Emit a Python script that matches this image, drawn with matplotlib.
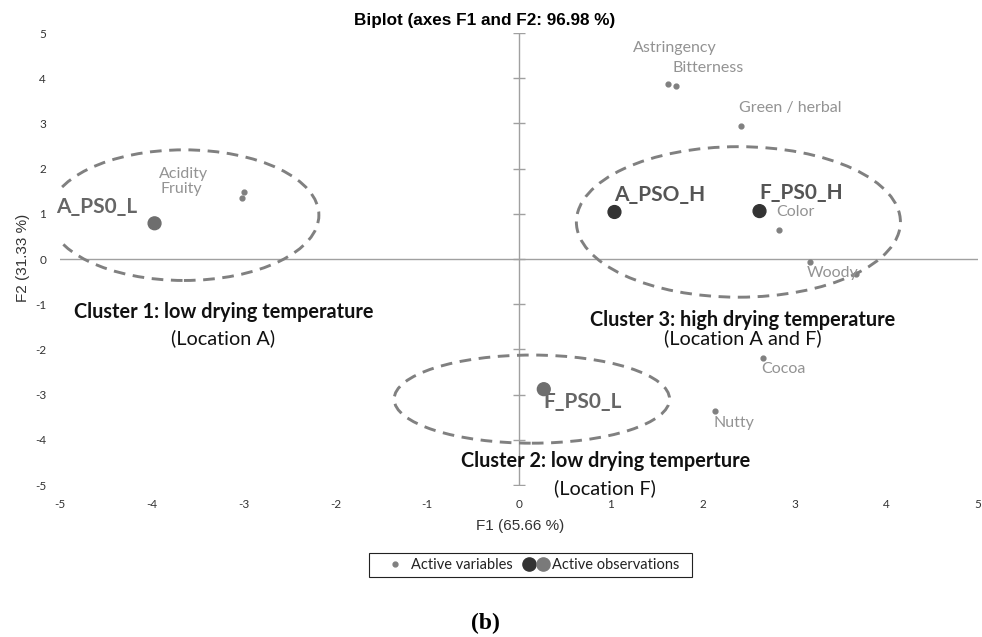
#!/usr/bin/env python3
# PCA biplot (F1 x F2) with three dashed cluster ellipses

import matplotlib
matplotlib.use('Agg')
from matplotlib import pyplot as plt
from matplotlib.patches import Ellipse, Rectangle
from matplotlib.lines import Line2D
from matplotlib.legend_handler import HandlerTuple

plt.rcParams['axes.unicode_minus'] = False

#
#   Data
#
var_names = ['Acidity', 'Fruity', 'Astringency', 'Bitterness', 'Green / herbal',
             'Color', 'Woody', '', 'Cocoa', 'Nutty']
var_f1 = [-3.00, -3.02, 1.62, 1.71, 2.42, 2.83, 3.17, 3.67, 2.66, 2.14]
var_f2 = [1.48, 1.35, 3.87, 3.83, 2.94, 0.64, -0.06, -0.33, -2.20, -3.36]

obs_names = ['A_PS0_L', 'A_PSO_H', 'F_PS0_H', 'F_PS0_L']
obs_f1 = [-3.97, 1.04, 2.62, 0.27]
obs_f2 = [0.79, 1.04, 1.06, -2.88]

cluster_titles = ['Cluster 1: low drying temperature',
                  'Cluster 2: low drying temperture',
                  'Cluster 3: high drying temperature']
cluster_subtitles = ['(Location A)', '(Location F)', '(Location A and F)']
cluster_cx = [-3.65, 0.14, 2.39]
cluster_cy = [0.97, -3.10, 0.82]
cluster_w = [2.94, 3.00, 3.53]
cluster_h = [2.89, 1.95, 3.33]

ticks = [-5, -4, -3, -2, -1, 0, 1, 2, 3, 4, 5]

#
#   Styles
#
CAL = ['Lato', 'DejaVu Sans']
ARIAL = ['Liberation Sans', 'DejaVu Sans']
var_off = [(-60, 18), (-60, 9), (-35, 36), (-3, 18), (-2, 18),
           (-3, 18), (-3, -11), (0, 0), (-2, -11), (-2, -12)]
var_ha = ['center', 'center', 'left', 'left', 'left',
          'left', 'left', 'left', 'left', 'left']
obs_off = [(-98, 16), (0, 17), (0, 18), (0, -13)]
obs_col = ['#6e6e6e', '#333333', '#333333', '#6e6e6e']
obs_txt = ['#666666', '#555555', '#555555', '#666666']
title_pos = [(-3.22, -1.17), (0.94, -4.48), (2.44, -1.35)]
sub_pos = [(-3.22, -1.75), (0.94, -5.07), (2.44, -1.75)]

fig = plt.figure(figsize=(9.82, 6.37), dpi=100)
ax = fig.add_axes([60 / 982, 1 - 485 / 637, 918 / 982, 452 / 637])
ax.set_xlim(-5, 5)
ax.set_ylim(-5, 5)
for sp in ax.spines.values():
    sp.set_visible(False)
ax.set_xticks(ticks)
ax.set_yticks(ticks)
ax.tick_params(length=0, labelsize=8.5, labelcolor='#333333')
ax.tick_params(axis='x', pad=10)
ax.tick_params(axis='y', pad=10)
for lab in ax.get_xticklabels() + ax.get_yticklabels():
    lab.set_family(CAL)

# zero lines, with small tick marks on the vertical one
ax.axhline(0, color='#a0a0a0', lw=1, zorder=1)
ax.axvline(0, color='#a0a0a0', lw=1, zorder=1)
ax.plot([0] * len(ticks), ticks, ls='none', marker='_', ms=8,
        mew=1, color='#a0a0a0', zorder=1)

# cluster ellipses
for cx, cy, w, h in zip(cluster_cx, cluster_cy, cluster_w, cluster_h):
    ax.add_patch(Ellipse((cx, cy), w, h, fill=False, ec='#808080',
                         lw=2.1, ls=(0, (4, 2.6)), zorder=2))

# active variables
ax.scatter(var_f1, var_f2, s=12, color='#808080', zorder=3)
for name, x, y, off, ha in zip(var_names, var_f1, var_f2, var_off, var_ha):
    if name:
        ax.annotate(name, (x, y), xytext=off, textcoords='offset pixels',
                    ha=ha, va='center', fontsize=11.5, color='#939393',
                    family=CAL)

# active observations
ax.scatter(obs_f1, obs_f2, s=85, color=obs_col, zorder=4)
for name, x, y, off, c in zip(obs_names, obs_f1, obs_f2, obs_off, obs_txt):
    ax.annotate(name, (x, y), xytext=off, textcoords='offset pixels',
                ha='left', va='center', fontsize=15, color=c,
                fontweight='bold', family=CAL)

# cluster captions
for t, s, tp, sp in zip(cluster_titles, cluster_subtitles, title_pos, sub_pos):
    ax.text(tp[0], tp[1], t, ha='center', va='center', fontsize=14.3,
            fontweight='bold', color='#111111', family=CAL)
    ax.text(sp[0], sp[1], s, ha='center', va='center', fontsize=14.3,
            color='#111111', family=CAL)

fig.text(485 / 982, 1 - 20 / 637, 'Biplot (axes F1 and F2: 96.98 %)',
         ha='center', va='center', fontsize=12.3, fontweight='bold',
         family=ARIAL)
fig.text(520 / 982, 1 - 526 / 637, 'F1 (65.66 %)', ha='center',
         va='center', fontsize=11, color='#333333', family=ARIAL)
fig.text(23 / 982, 1 - 258 / 637, 'F2 (31.33 %)', ha='center',
         va='center', fontsize=11, color='#333333', rotation=90,
         family=ARIAL)

# legend, frame drawn separately to match the wide padding
h_var = Line2D([], [], ls='none', marker='o', ms=3.5, color='#808080')
h_o1 = Line2D([], [], ls='none', marker='o', ms=9.5, color='#333333')
h_o2 = Line2D([], [], ls='none', marker='o', ms=9.5, color='#7a7a7a')
leg = fig.legend([h_var, (h_o1, h_o2)],
                 ['Active variables', 'Active observations'],
                 handler_map={tuple: HandlerTuple(ndivide=None, pad=0.2)},
                 loc='center', bbox_to_anchor=(531 / 982, 1 - 565 / 637),
                 ncol=2, frameon=False, handlelength=1.7,
                 handletextpad=0.2, columnspacing=0.8,
                 prop={'family': CAL, 'size': 10.5})
for t in leg.get_texts():
    t.set_color('#222222')
fig.add_artist(Rectangle((369 / 982, 1 - 577 / 637), 323 / 982, 24 / 637,
                         transform=fig.transFigure, fill=False,
                         ec='#222222', lw=0.8))

fig.text(485 / 982, 1 - 623 / 637, '(b)', ha='center', va='center',
         fontsize=17, fontweight='bold',
         family=['Liberation Serif', 'DejaVu Serif'])

fig.savefig('out.png', dpi=100)
